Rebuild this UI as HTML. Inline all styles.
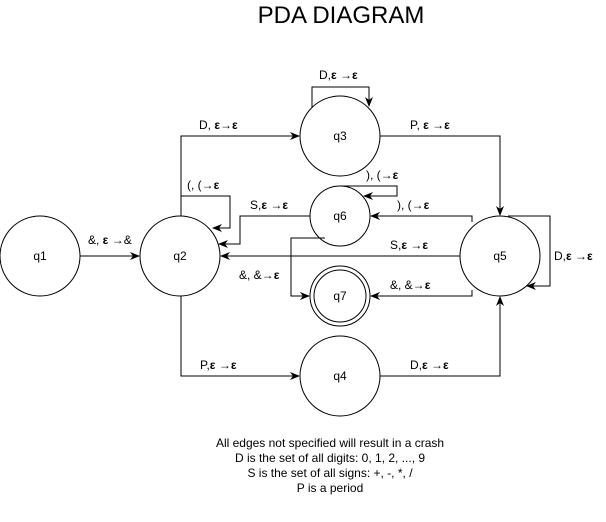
<!DOCTYPE html>
<html><head><meta charset="utf-8"><style>
html,body{margin:0;padding:0;background:#fff;}
svg text{font-family:"Liberation Sans",Arial,sans-serif;font-size:12px;fill:#000;}
</style></head><body>
<svg width="606" height="517" viewBox="0 0 606 517" xmlns="http://www.w3.org/2000/svg">
<defs>
<marker id="a" markerWidth="10" markerHeight="8" refX="9" refY="4" orient="auto" markerUnits="userSpaceOnUse">
<path d="M0,0 L10,4 L0,8 L3,4 Z" fill="#000"/>
</marker>
</defs>
<rect width="606" height="517" fill="#fff"/>
<text x="341" y="23" text-anchor="middle" style="font-size:24px">PDA DIAGRAM</text>
<g fill="#fff" stroke="#000" stroke-width="1">
<circle cx="40" cy="256" r="40"/>
<circle cx="180" cy="256" r="40"/>
<circle cx="340" cy="136" r="40"/>
<circle cx="340" cy="216" r="30"/>
<circle cx="340" cy="296" r="30"/>
<circle cx="340" cy="296" r="26"/>
<circle cx="340" cy="376" r="40"/>
<circle cx="500" cy="256" r="40"/>
</g>
<g text-anchor="middle">
<text x="40" y="260">q1</text>
<text x="180" y="260">q2</text>
<text x="340" y="140">q3</text>
<text x="340" y="220">q6</text>
<text x="340" y="300">q7</text>
<text x="340" y="380">q4</text>
<text x="500" y="260">q5</text>
</g>
<g fill="none" stroke="#000" stroke-width="1" marker-end="url(#a)">
<path d="M80,256 H139"/>
<path d="M181,216 V136 H299"/>
<path d="M312,107 V87 H369 V106"/>
<path d="M380,136 H500 V215"/>
<path d="M181,216 V196 H230 V228 H213"/>
<path d="M340,186 H397 V196 H364"/>
<path d="M472,222 V216 H371"/>
<path d="M460,256 H221"/>
<path d="M310,216 H240 V244 H219"/>
<path d="M325,238 H291 V296 H309"/>
<path d="M472,290 V296 H371"/>
<path d="M508,216 H550 V286 H527"/>
<path d="M181,296 V376 H299"/>
<path d="M380,376 H500 V297"/>
</g>
<g>
<text x="88" y="244">&amp;, <tspan font-weight="bold">ε</tspan> →&amp;</text>
<text x="199" y="129">D, <tspan font-weight="bold">ε</tspan>→<tspan font-weight="bold">ε</tspan></text>
<text x="319" y="79">D,<tspan font-weight="bold">ε</tspan> →<tspan font-weight="bold">ε</tspan></text>
<text x="410" y="129">P, <tspan font-weight="bold">ε</tspan> →<tspan font-weight="bold">ε</tspan></text>
<text x="187" y="189">(, (→<tspan font-weight="bold">ε</tspan></text>
<text x="366" y="179">), (→<tspan font-weight="bold">ε</tspan></text>
<text x="397" y="209">), (→<tspan font-weight="bold">ε</tspan></text>
<text x="250" y="209">S,<tspan font-weight="bold">ε</tspan> →<tspan font-weight="bold">ε</tspan></text>
<text x="390" y="249">S,<tspan font-weight="bold">ε</tspan> →<tspan font-weight="bold">ε</tspan></text>
<text x="239" y="279">&amp;, &amp;→<tspan font-weight="bold">ε</tspan></text>
<text x="390" y="289">&amp;, &amp;→<tspan font-weight="bold">ε</tspan></text>
<text x="554" y="260">D,<tspan font-weight="bold">ε</tspan> →<tspan font-weight="bold">ε</tspan></text>
<text x="200" y="369">P,<tspan font-weight="bold">ε</tspan> →<tspan font-weight="bold">ε</tspan></text>
<text x="410" y="369">D,<tspan font-weight="bold">ε</tspan> →<tspan font-weight="bold">ε</tspan></text>
</g>
<g text-anchor="middle">
<text x="330" y="447">All edges not specified will result in a crash</text>
<text x="330" y="462">D is the set of all digits: 0, 1, 2, ..., 9</text>
<text x="330" y="477">S is the set of all signs: +, -, *, /</text>
<text x="330" y="492">P is a period</text>
</g>
</svg>
</body></html>
